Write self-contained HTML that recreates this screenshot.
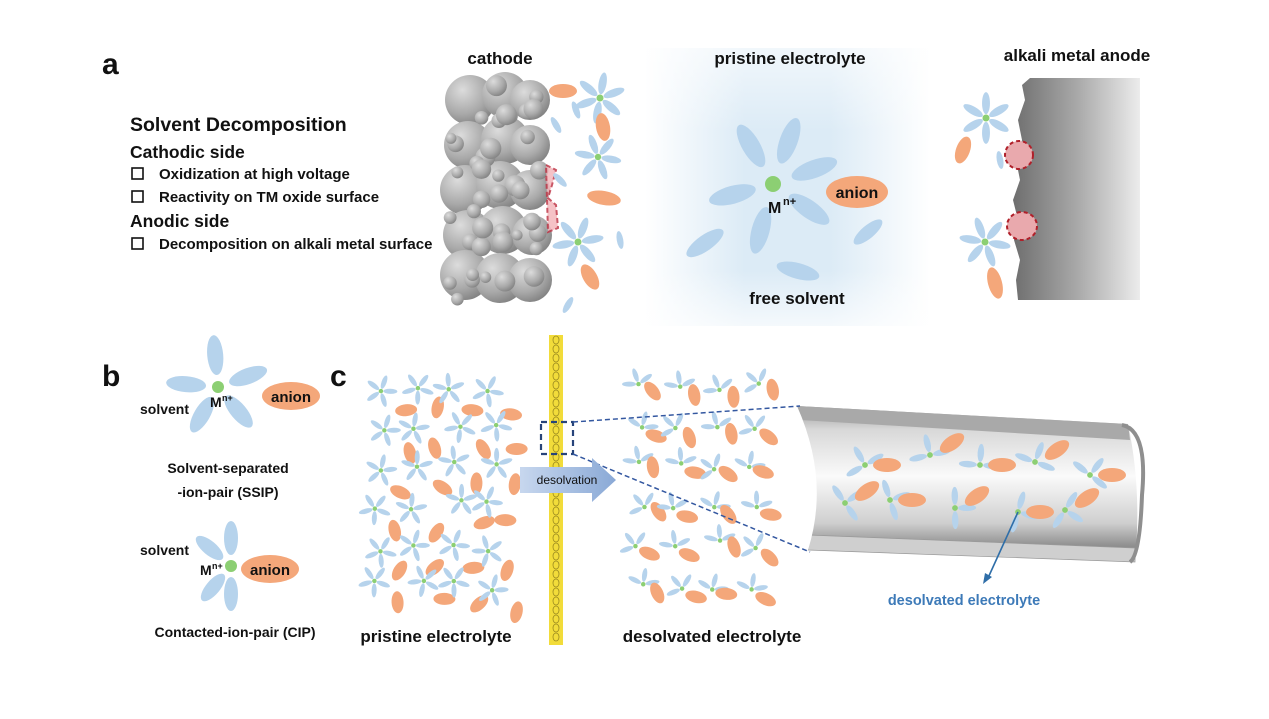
<!DOCTYPE html>
<html><head><meta charset="utf-8">
<style>
body{margin:0;background:#fff;}
svg text{font-family:"Liberation Sans",Arial,sans-serif;font-weight:bold;fill:#111;}
</style></head>
<body>
<svg id="s" width="1269" height="714" viewBox="0 0 1269 714" xmlns="http://www.w3.org/2000/svg">
<defs>
<linearGradient id="panel" x1="0" x2="1" y1="0" y2="0">
<stop offset="0" stop-color="#fff"/><stop offset="0.35" stop-color="#dcebf6"/><stop offset="0.65" stop-color="#dcebf6"/><stop offset="1" stop-color="#fff"/></linearGradient>
<linearGradient id="panelv" x1="0" x2="0" y1="0" y2="1">
<stop offset="0" stop-color="#fff" stop-opacity="0.6"/><stop offset="0.3" stop-color="#fff" stop-opacity="0"/><stop offset="0.8" stop-color="#fff" stop-opacity="0"/><stop offset="1" stop-color="#fff" stop-opacity="0.7"/></linearGradient>
<linearGradient id="anode" x1="0" x2="1"><stop offset="0" stop-color="#6e6e6e"/><stop offset="0.5" stop-color="#a8a8a8"/><stop offset="1" stop-color="#ececec"/></linearGradient>
<radialGradient id="sph" cx="0.35" cy="0.3" r="0.8"><stop offset="0" stop-color="#dcdcdc"/><stop offset="0.6" stop-color="#a9a9a9"/><stop offset="1" stop-color="#7a7a7a"/></radialGradient>
<linearGradient id="tube" x1="0" x2="0" y1="0" y2="1"><stop offset="0" stop-color="#9a9a9a"/><stop offset="0.15" stop-color="#d8d8d8"/><stop offset="0.45" stop-color="#fafafa"/><stop offset="0.75" stop-color="#cfcfcf"/><stop offset="0.9" stop-color="#8d8d8d"/><stop offset="1" stop-color="#b0b0b0"/></linearGradient>
<linearGradient id="arr" x1="0" x2="1"><stop offset="0" stop-color="#c7d7ee"/><stop offset="1" stop-color="#8aa9d6"/></linearGradient>
</defs>

<rect x="645" y="48" width="285" height="278" fill="url(#panel)"/>
<rect x="645" y="48" width="285" height="278" fill="url(#panelv)"/>
<g id="cath"></g>
<path d="M546 165 L556 170 L552 185 L548 198 L556 205 L558 228 L548 232 Z" fill="#f4b8bd" stroke="#c0394a" stroke-width="2" stroke-dasharray="5,3" opacity="0.85"/>
<path d="M1030 78 L1140 78 L1140 300 L1018 300 L1016 280 L1020 260 L1014 240 L1018 220 L1013 200 L1020 180 L1016 160 L1022 140 L1018 120 L1025 100 L1022 85 Z" fill="url(#anode)"/>
<ellipse cx="1019" cy="155" rx="14" ry="14" fill="#e9a9ad" stroke="#b0202a" stroke-width="2" stroke-dasharray="4,3"/>
<ellipse cx="1022" cy="226" rx="15" ry="14" fill="#e9a9ad" stroke="#b0202a" stroke-width="2" stroke-dasharray="4,3"/>

<rect x="549" y="335" width="14" height="310" fill="#f2dc3a"/>
<g id="bar"></g>
<!-- tube -->
<path d="M797 406 L1128 424 Q1142 490 1135 562 L808 550 Q818 480 797 406 Z" fill="url(#tube)"/>
<path d="M797 406 L1128 424 L1130 440 L800 420 Z" fill="#a9a9a9"/>
<path d="M808 535 L1135 548 L1135 562 L808 550 Z" fill="#cfcfcf" stroke="#999" stroke-width="0.7"/>
<path d="M797 406 Q830 480 808 550 L790 550 L790 406 Z" fill="#fff"/>
<path d="M1122 425 Q1148 430 1142 495 Q1140 555 1130 562" fill="none" stroke="#8f8f8f" stroke-width="4"/>
<g id="tubemol"></g>
<g id="mols"></g>

<text x="102" y="74" font-size="30">a</text>
<text x="130" y="131" font-size="19.5">Solvent Decomposition</text>
<text x="130" y="158" font-size="17.5">Cathodic side</text>
<rect x="132" y="168" width="11" height="11" fill="none" stroke="#111" stroke-width="1.6"/>
<text x="159" y="179" font-size="15">Oxidization at high voltage</text>
<rect x="132" y="191" width="11" height="11" fill="none" stroke="#111" stroke-width="1.6"/>
<text x="159" y="202" font-size="15">Reactivity on TM oxide surface</text>
<text x="130" y="227" font-size="17.5">Anodic side</text>
<rect x="132" y="238" width="11" height="11" fill="none" stroke="#111" stroke-width="1.6"/>
<text x="159" y="249" font-size="15">Decomposition on alkali metal surface</text>

<text x="500" y="64" font-size="17" text-anchor="middle">cathode</text>
<text x="790" y="64" font-size="17" text-anchor="middle">pristine electrolyte</text>
<text x="797" y="304" font-size="17" text-anchor="middle">free solvent</text>
<text x="768" y="213" font-size="16">M</text><text x="783" y="205" font-size="11">n+</text>
<ellipse cx="857" cy="192" rx="31" ry="16" fill="#f4a77a"/>
<text x="857" y="198" font-size="16" text-anchor="middle">anion</text>
<text x="1077" y="61" font-size="17" text-anchor="middle">alkali metal anode</text>

<text x="102" y="386" font-size="30">b</text>
<text x="330" y="386" font-size="30">c</text>
<text x="210" y="407" font-size="14">M</text><text x="222" y="401" font-size="9">n+</text>
<ellipse cx="291" cy="396" rx="29" ry="14" fill="#f4a77a"/>
<text x="291" y="402" font-size="15" text-anchor="middle">anion</text>
<text x="140" y="414" font-size="14">solvent</text>
<text x="228" y="473" font-size="14" text-anchor="middle">Solvent-separated</text>
<text x="228" y="497" font-size="14" text-anchor="middle">-ion-pair (SSIP)</text>
<text x="140" y="555" font-size="14">solvent</text>
<text x="200" y="575" font-size="14">M</text><text x="212" y="569" font-size="9">n+</text>
<ellipse cx="270" cy="569" rx="29" ry="14" fill="#f4a77a"/>
<text x="270" y="575" font-size="15" text-anchor="middle">anion</text>
<text x="235" y="637" font-size="14" text-anchor="middle">Contacted-ion-pair (CIP)</text>

<rect x="541" y="422" width="32" height="32" fill="none" stroke="#27447a" stroke-width="2.2" stroke-dasharray="6,4"/>
<line x1="573" y1="422" x2="800" y2="406" stroke="#3357a0" stroke-width="1.5" stroke-dasharray="5,3"/>
<line x1="573" y1="454" x2="810" y2="552" stroke="#3357a0" stroke-width="1.5" stroke-dasharray="5,3"/>
<path d="M520 467 L592 467 L592 458 L616 480 L592 502 L592 493 L520 493 Z" fill="url(#arr)"/>
<text x="567" y="484" font-size="12" text-anchor="middle" style="font-weight:normal">desolvation</text>

<line x1="1018" y1="512" x2="988" y2="578" stroke="#2f6ea8" stroke-width="1.6"/>
<path d="M983 584 L985 573 L992 577 Z" fill="#2f6ea8"/>
<text x="964" y="605" font-size="14.5" text-anchor="middle" style="fill:#3d7ab8">desolvated electrolyte</text>
<text x="436" y="642" font-size="17" text-anchor="middle">pristine electrolyte</text>
<text x="712" y="642" font-size="17" text-anchor="middle">desolvated electrolyte</text>
</svg>
<script>
var NS="http://www.w3.org/2000/svg";
function el(p,t,a){var e=document.createElementNS(NS,t);for(var k in a)e.setAttribute(k,a[k]);document.getElementById(p).appendChild(e);return e;}
var seed=7;function rnd(){seed=(seed*16807)%2147483647;return (seed-1)/2147483646;}
function mol(p,x,y,s,n,rot,skip){n=n||5;rot=rot||0;
 for(var i=0;i<n;i++){if(skip&&skip.indexOf(i)>=0)continue;var a=rot+i*360/n;var r=a*Math.PI/180;
  el(p,"ellipse",{cx:x+Math.cos(r)*s*1.35,cy:y+Math.sin(r)*s*1.35,rx:s,ry:s*0.36,fill:"#b6d3ec",transform:"rotate("+a+" "+(x+Math.cos(r)*s*1.35)+" "+(y+Math.sin(r)*s*1.35)+")"});}
 el(p,"circle",{cx:x,cy:y,r:s*0.32,fill:"#8ccf73"});}
function an(p,x,y,rx,ry,a){el(p,"ellipse",{cx:x,cy:y,rx:rx,ry:ry,fill:"#f4a77a",transform:"rotate("+a+" "+x+" "+y+")"});}
function sol(p,x,y,s,a){el(p,"ellipse",{cx:x,cy:y,rx:s,ry:s*0.36,fill:"#b6d3ec",transform:"rotate("+a+" "+x+" "+y+")"});}
var cs=[[470,100,25],[505,95,23],[530,100,20],[468,145,24],[505,140,24],[530,145,20],[465,190,25],[500,185,24],[530,190,20],[468,235,25],[503,230,24],[532,235,20],[465,275,25],[500,278,25],[530,280,22]];
cs.forEach(function(c){el("cath","circle",{cx:c[0],cy:c[1],r:c[2],fill:"url(#sph)"});});
for(var i=0;i<40;i++){el("cath","circle",{cx:450+rnd()*95,cy:85+rnd()*215,r:5+rnd()*6,fill:"url(#sph)"});}
mol("mols",600,98,11,6,-20);mol("mols",598,157,10,6,10);mol("mols",578,242,11,6,-10);
an("mols",563,91,14,7,0);an("mols",603,127,14,7,80);an("mols",604,198,17,7,10);an("mols",590,277,14,7,60);
[[556,125,60],[576,110,70],[560,180,45],[620,240,80],[568,305,120]].forEach(function(v){sol("mols",v[0],v[1],9,v[2]);});
[[-120,44],[-70,46],[-20,44],[35,44],[105,48],[165,42]].forEach(function(v){var a=v[0];var r=a*Math.PI/180;var x=773+Math.cos(r)*v[1],y=184+Math.sin(r)*v[1];
 el("mols","ellipse",{cx:x,cy:y,rx:24,ry:9,fill:"#b6d3ec",transform:"rotate("+a+" "+x+" "+y+")"});});
el("mols","circle",{cx:773,cy:184,r:8,fill:"#8ccf73"});
sol("mols",705,243,22,-35);sol("mols",798,271,22,15);sol("mols",868,232,18,-40);
mol("mols",986,118,11,6,-30);mol("mols",985,242,11,6,10);an("mols",963,150,14,7,110);an("mols",995,283,16,7,75);sol("mols",1000,160,9,80);
[-95,-20,50,120,185].forEach(function(a){var r=a*Math.PI/180;var x=218+Math.cos(r)*32,y=387+Math.sin(r)*32;
 el("mols","ellipse",{cx:x,cy:y,rx:20,ry:8,fill:"#b6d3ec",transform:"rotate("+a+" "+x+" "+y+")"});});
el("mols","circle",{cx:218,cy:387,r:6,fill:"#8ccf73"});
[-140,-90,90,130].forEach(function(a){var r=a*Math.PI/180;var x=231+Math.cos(r)*28,y=566+Math.sin(r)*28;
 el("mols","ellipse",{cx:x,cy:y,rx:17,ry:7,fill:"#b6d3ec",transform:"rotate("+a+" "+x+" "+y+")"});});
el("mols","circle",{cx:231,cy:566,r:6,fill:"#8ccf73"});
for(var j=0;j<6;j++)for(var i=0;i<4;i++){var x=372+i*38+rnd()*14,y=380+j*40+rnd()*12;mol("mols",x,y,7,5,rnd()*72);
 an("mols",x+18+rnd()*8,y+18+rnd()*6,11,6,rnd()*180);}
for(var j=0;j<6;j++)for(var i=0;i<4;i++){var x=635+i*38+rnd()*10,y=380+j*40+rnd()*10;mol("mols",x,y,7,5,rnd()*72,[0,1]);
 an("mols",x+14,y+4+rnd()*6,11,6,rnd()*90);}
for(var y=340;y<640;y+=9){el("bar","ellipse",{cx:556,cy:y,rx:3,ry:4,fill:"none",stroke:"#9a8a20","stroke-width":0.8});}
[[865,465,0],[930,455,1],[980,465,0],[1035,462,1],[1090,475,0],[845,503,0],[890,500,1],[955,508,0],[1018,512,1],[1065,510,0]].forEach(function(m,k){
 mol("tubemol",m[0],m[1],9,4,-30+k*17,[1]);an("tubemol",m[0]+22,m[1]-(k%2?12:0),14,7,k%2?-35:0);});
</script>
</body></html>
